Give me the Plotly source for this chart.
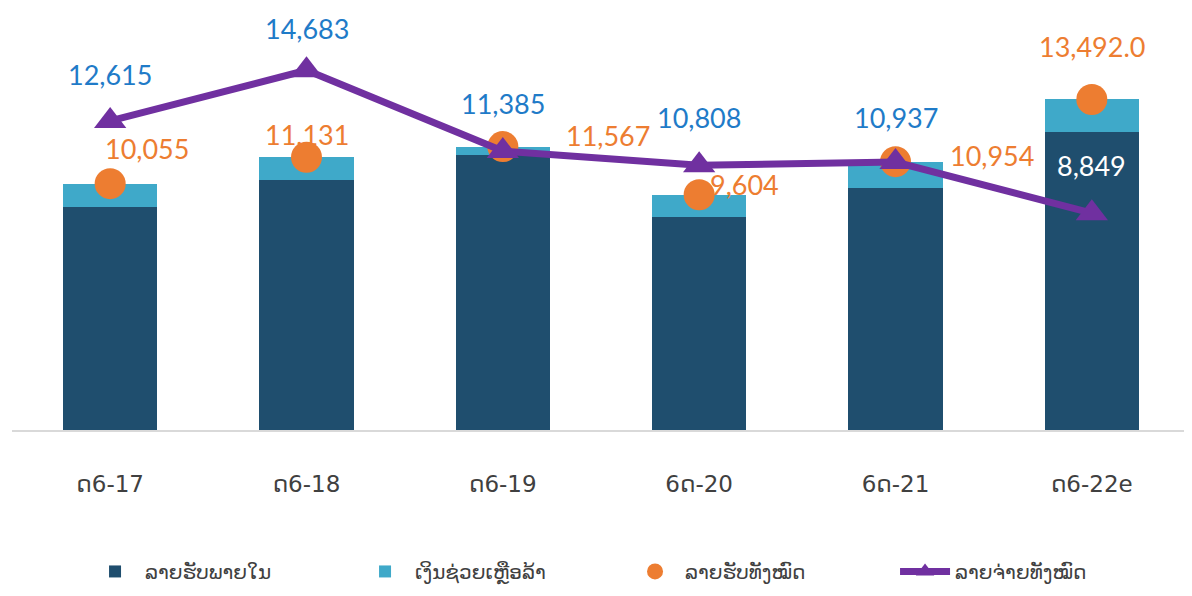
import plotly.graph_objects as go

categories = ["ດ6-17", "ດ6-18", "ດ6-19", "6ດ-20", "6ດ-21", "ດ6-22e"]
domestic_revenue = [9100, 10200, 11220, 8700, 9880, 12160]
grants = [955, 931, 347, 904, 1074, 1332]
total_revenue = [10055, 11131, 11567, 9604, 10954, 13492]
total_expenditure = [12615, 14683, 11385, 10808, 10937, 8849]
revenue_labels = ["10,055", "11,131", "11,567", "9,604", "10,954", "13,492.0"]
expenditure_labels = ["12,615", "14,683", "11,385", "10,808", "10,937", "8,849"]

names = ["ລາຍຮັບພາຍໃນ", "ເງິນຊ່ວຍເຫຼືອລ້າ", "ລາຍຮັບທັງໝົດ", "ລາຍຈ່າຍທັງໝົດ"]

DARK = "#1F4E6E"
LIGHT = "#3FA9C9"
ORANGE = "#ED7D31"
PURPLE = "#7030A0"
BLUE_TXT = "#1F7BC8"

# label offsets (pixels) - style only
rev_dx = [37, 0, 105, 45, 96, 0]
rev_dy = [35, 23, 11, 10, 6, 53]
exp_dy = [46, 42, 48, 48, 45, 48]
exp_colors = [BLUE_TXT] * 5 + ["#FFFFFF"]

fig = go.Figure()
fig.add_trace(go.Bar(x=categories, y=domestic_revenue, name=names[0],
                     marker=dict(color=DARK, line=dict(width=0)), width=0.48))
fig.add_trace(go.Bar(x=categories, y=grants, name=names[1],
                     marker=dict(color=LIGHT, line=dict(width=0)), width=0.48))
fig.add_trace(go.Scatter(x=categories, y=total_revenue, name=names[2], mode="markers",
                         marker=dict(color=ORANGE, size=31, line=dict(width=0))))
fig.add_trace(go.Scatter(x=categories, y=total_expenditure, name=names[3], mode="lines+markers",
                         line=dict(color=PURPLE, width=7),
                         marker=dict(symbol="triangle-up", color=PURPLE, size=28)))

annos = []
for i, c in enumerate(categories):
    annos.append(dict(x=c, y=total_revenue[i], text=revenue_labels[i], showarrow=False,
                      xshift=rev_dx[i], yshift=rev_dy[i],
                      font=dict(family="Lato", size=27, color=ORANGE)))
    annos.append(dict(x=c, y=total_expenditure[i], text=expenditure_labels[i], showarrow=False,
                      yshift=exp_dy[i],
                      font=dict(family="Lato", size=27, color=exp_colors[i])))

fig.update_layout(
    width=1192, height=596,
    barmode="stack",
    plot_bgcolor="white", paper_bgcolor="white",
    margin=dict(l=4, r=10, t=12, b=174, autoexpand=False),
    showlegend=True,
    legend=dict(orientation="h", x=0.062, xanchor="left", y=-0.345, yanchor="middle",
                font=dict(family="DejaVu Sans", size=20, color="#404040"),
                traceorder="normal", itemwidth=50, entrywidth=205),
    annotations=annos,
)
fig.update_xaxes(showline=True, linecolor="#D9D9D9", linewidth=1.5, ticks="",
                 tickfont=dict(family="DejaVu Sans", size=23, color="#404040"),
                 ticklabelstandoff=33, range=[-0.5, 5.5])
fig.update_yaxes(range=[0, 16735], showgrid=False, showticklabels=False, zeroline=False,
                 showline=False)

fig.write_html("out.html")
